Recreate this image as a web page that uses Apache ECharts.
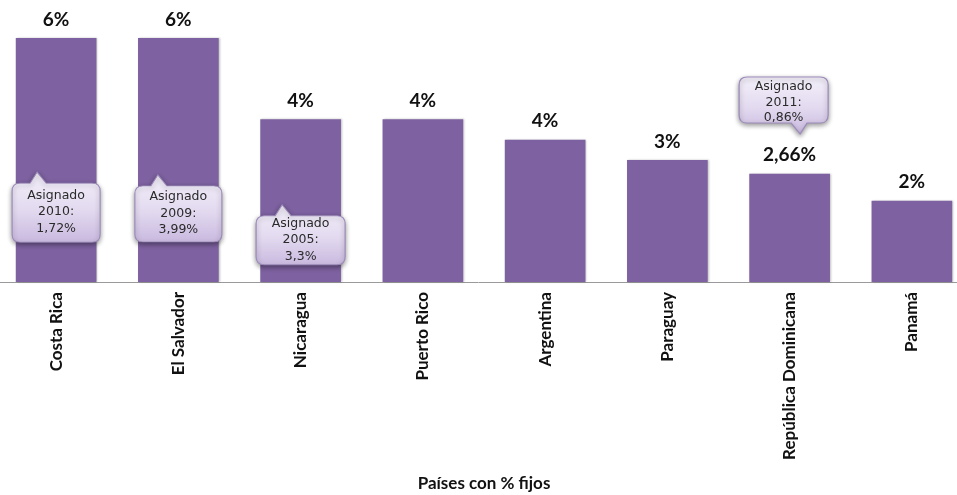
<!DOCTYPE html>
<html>
<head>
<meta charset="utf-8">
<script src="https://cdn.jsdelivr.net/npm/echarts@6/dist/echarts.min.js"></script>
<style>
  html, body { margin: 0; padding: 0; background: #ffffff; }
  #chart { width: 957px; height: 495px; }
</style>
</head>
<body>
<div id="chart"></div>
<script>
// Countries and their fixed percentage
const countries = ['Costa Rica', 'El Salvador', 'Nicaragua', 'Puerto Rico', 'Argentina', 'Paraguay', 'República Dominicana', 'Panamá'];
const fixedPct = [6, 6, 4, 4, 3.5, 3, 2.66, 2];
const labelDecimals = [0, 0, 0, 0, 0, 0, 2, 0];

// Assigned-year notes
const noteCountries = ['Costa Rica', 'El Salvador', 'Nicaragua', 'República Dominicana'];
const noteYears = ['2010', '2009', '2005', '2011'];
const notePct = ['1,72%', '3,99%', '3,3%', '0,86%'];

// Where each note bubble sits (value-axis level of its centre), its shape and nudge
const noteLevel = [1.84, 1.81, 1.16, 4.34];
const noteSize = [[88, 70], [87, 67], [89, 60], [89, 57]];
const notePointerUp = [true, true, true, false];
const tipXs = [25, 23, 26, 61];
const noteShiftX = [0, 0, 0, -6];

function bubblePath(w, h, up, tipX) {
  const p = 11, r = 8;
  if (up) {
    return 'path://M' + r + ' ' + p + ' L' + (tipX - 7) + ' ' + p + ' L' + tipX + ' 0 L' + (tipX + 9) + ' ' + p +
      ' L' + (w - r) + ' ' + p + ' Q' + w + ' ' + p + ' ' + w + ' ' + (p + r) +
      ' L' + w + ' ' + (h - r) + ' Q' + w + ' ' + h + ' ' + (w - r) + ' ' + h +
      ' L' + r + ' ' + h + ' Q0 ' + h + ' 0 ' + (h - r) +
      ' L0 ' + (p + r) + ' Q0 ' + p + ' ' + r + ' ' + p + ' Z';
  }
  const b = h - p;
  return 'path://M' + r + ' 0 L' + (w - r) + ' 0 Q' + w + ' 0 ' + w + ' ' + r +
    ' L' + w + ' ' + (b - r) + ' Q' + w + ' ' + b + ' ' + (w - r) + ' ' + b +
    ' L' + (tipX + 7) + ' ' + b + ' L' + tipX + ' ' + h + ' L' + (tipX - 9) + ' ' + b +
    ' L' + r + ' ' + b + ' Q0 ' + b + ' 0 ' + (b - r) +
    ' L0 ' + r + ' Q0 0 ' + r + ' 0 Z';
}

const chart = echarts.init(document.getElementById('chart'), null, { renderer: 'canvas' });

const bubbleFill = new echarts.graphic.LinearGradient(0, 0, 0, 1, [
  { offset: 0, color: '#f4f0fa' },
  { offset: 0.55, color: '#e2d9ef' },
  { offset: 1, color: '#c9b9df' }
]);

const notes = noteCountries.map((c, i) => {
  const [w, h] = noteSize[i];
  const up = notePointerUp[i];
  return {
    coord: [c, noteLevel[i]],
    symbol: bubblePath(w, h, up, tipXs[i]),
    symbolSize: [w, h],
    symbolOffset: [noteShiftX[i], 0],
    label: {
      formatter: 'Asignado\n' + noteYears[i] + ':\n' + notePct[i],
      offset: [0, up ? 5 : -3],
      lineHeight: up ? 16.5 : 15.5
    }
  };
});

chart.setOption({
  animation: false,
  grid: { left: -5, right: -16, top: 38, bottom: 213, containLabel: false, outerBoundsMode: 'none' },
  xAxis: {
    type: 'category',
    data: countries,
    axisLine: { lineStyle: { color: '#9a9a9a', width: 1 } },
    axisTick: { show: false },
    axisLabel: {
      rotate: 90,
      margin: 10,
      interval: 0,
      fontFamily: 'Lato',
      fontWeight: 'bold',
      fontSize: 17,
      color: '#111111'
    },
    name: 'Países con % fijos',
    nameLocation: 'middle',
    nameGap: 193,
    nameTextStyle: { fontFamily: 'Lato', fontWeight: 'bold', fontSize: 17, color: '#111111' }
  },
  yAxis: {
    type: 'value',
    min: 0,
    max: 6,
    show: false
  },
  series: [{
    type: 'bar',
    data: fixedPct,
    barWidth: '66%',
    itemStyle: {
      color: '#7d61a0',
      shadowColor: 'rgba(0,0,0,0.25)',
      shadowBlur: 2,
      shadowOffsetX: 1
    },
    label: {
      show: true,
      position: 'top',
      distance: 9,
      fontFamily: 'Lato',
      fontWeight: 'bold',
      fontSize: 19,
      color: '#111111',
      formatter: p => p.value.toFixed(labelDecimals[p.dataIndex]).replace('.', ',') + '%'
    },
    markPoint: {
      silent: true,
      itemStyle: {
        color: bubbleFill,
        borderColor: '#9d8bbb',
        borderWidth: 1,
        shadowColor: 'rgba(0,0,0,0.4)',
        shadowBlur: 5,
        shadowOffsetY: 2
      },
      label: {
        show: true,
        position: 'inside',
        fontFamily: 'DejaVu Sans',
        fontSize: 12.5,
        lineHeight: 16.5,
        color: '#2a2a2a',
        align: 'center'
      },
      data: notes
    }
  }]
});
</script>
</body>
</html>
